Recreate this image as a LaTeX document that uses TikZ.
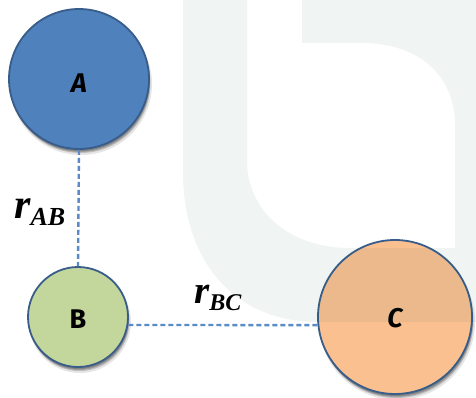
\documentclass[tikz,border=0pt]{standalone}
\usepackage{fontspec}
\setmainfont{Liberation Serif}
\newfontfamily\circfont{Fira Sans}
\definecolor{fillA}{HTML}{4F81BD}
\definecolor{fillB}{HTML}{C3D69B}
\definecolor{fillC}{HTML}{FAC090}
\definecolor{rim}{HTML}{385D8A}
\definecolor{dashblue}{HTML}{5B8BC7}
\definecolor{wmark}{rgb}{0.15,0.38,0.32}
\tikzset{
  ball/.style={circle, inner sep=0pt, draw=rim, line width=1.8pt},
  shade1/.style={fill=black, opacity=0.17},
  link/.style={draw=dashblue, line width=2.4pt, dash pattern=on 5pt off 3pt},
  lbl/.style={inner sep=0pt, anchor=base west, font=\bfseries\itshape},
  letter/.style={font=\circfont\bfseries\fontsize{27}{27}\selectfont, text=black},
  sletter/.style={font=\circfont\bfseries\itshape\fontsize{27}{27}\selectfont, text=black}
}
\begin{document}
\begin{tikzpicture}[x=1pt, y=-1pt]
\useasboundingbox (0,0) rectangle (476,398);
\fill[white] (0,0) rectangle (476,398);

\coordinate (cA) at (79,79);
\coordinate (cB) at (78,317);
\coordinate (cC) at (395,317);

% soft drop shadows
\foreach \c/\r in {cA/70, cB/50, cC/77}{
  \fill[shade1, opacity=0.10] ([shift={(2,5)}]\c) circle (\r+1);
  \fill[shade1] ([shift={(1.5,4)}]\c) circle (\r);
  \fill[shade1] ([shift={(1,3)}]\c) circle (\r);
  \fill[shade1] ([shift={(0.5,2)}]\c) circle (\r);
}

\node[ball, fill=fillA, minimum size=140pt] (A) at (cA) {};
\node[ball, fill=fillB, minimum size=100pt] (B) at (cB) {};
\node[ball, fill=fillC, minimum size=154pt] (C) at (cC) {};

\node[sletter] (la) at (A.center) [yshift=-4pt] {A};
\node[letter] (lb) at (B.center) [yshift=-2pt] {B};
\node[sletter] (lc) at (C.center) [yshift=-1pt] {C};

\draw[link] (A.south) -- (B.north);
\draw[link] (B.-9) -- (C.186);

\node[lbl] (rab) at (14,218) {\fontsize{42}{42}\selectfont r\fontsize{26}{26}\selectfont\raisebox{-7pt}{AB}};
\node[lbl] (rbc) at (194,303) {\fontsize{39}{39}\selectfont r\fontsize{24}{24}\selectfont\raisebox{-7pt}{BC}};

% faint watermark overlay
\fill[wmark, opacity=0.065, even odd rule]
  (183,0) -- (476,0) -- (476,322) -- (318,322)
    .. controls (235,322) and (183,262) .. (183,172) -- cycle
  (247,0) -- (302,0) -- (302,43) -- (362,43)
    .. controls (418,43) and (455,75) .. (455,125) -- (455,248) -- (350,248)
    .. controls (290,248) and (247,212) .. (247,160) -- cycle;
\end{tikzpicture}
\end{document}
